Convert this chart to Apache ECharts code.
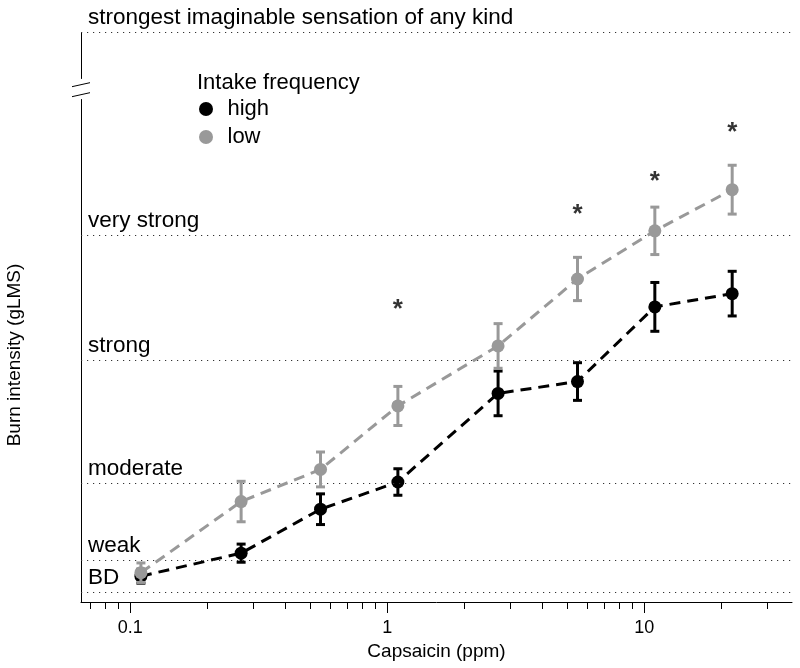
<!DOCTYPE html>
<html><head><meta charset="utf-8">
<script src="https://cdn.jsdelivr.net/npm/echarts@6/dist/echarts.min.js"></script>
<style>html,body{margin:0;padding:0;background:#fff}#c{width:800px;height:668px}</style>
</head><body><div id="c"></div>
<script>
const concentrations = [0.11, 0.27, 0.55, 1.1, 2.7, 5.5, 11, 22];
const highMean = [3.7, 7.0, 13.3, 17.2, 29.9, 31.6, 42.3, 44.2];
const highErr  = [1.0, 1.3, 2.2, 1.9, 3.2, 2.7, 3.5, 3.2];
const lowMean  = [4.2, 14.4, 19.0, 28.1, 36.7, 46.3, 53.2, 59.1];
const lowErr   = [1.4, 2.9, 2.5, 2.8, 3.2, 3.1, 3.4, 3.5];
const sigX = [1.1, 5.5, 11, 22];
const sigY = [42.5, 56.0, 60.8, 67.8];
const anchorNames = ['BD', 'weak', 'moderate', 'strong', 'very strong', 'strongest imaginable sensation of any kind'];
const anchorValues = [1.4, 6, 17, 34.7, 52.5, 100];
const majorTicks = [0.1, 1, 10];
const minorTicks = [0.07, 0.08, 0.09, 0.2, 0.3, 0.4, 0.5, 0.6, 0.7, 0.8, 0.9, 2, 3, 4, 5, 6, 7, 8, 9, 20, 30];
const groupNames = ['high', 'low'];

const FONT = '"Liberation Sans", Arial, sans-serif';
const BLACK = '#000000', GRAY = '#999999';

function errRender(color) {
  return function (params, api) {
    const x = api.value(0), lo = api.value(1), hi = api.value(2);
    const p1 = api.coord([x, hi]), p2 = api.coord([x, lo]);
    const w = 4.5, st = { stroke: color, lineWidth: 3 };
    return { type: 'group', children: [
      { type: 'line', shape: { x1: p1[0], y1: p1[1], x2: p2[0], y2: p2[1] }, style: st },
      { type: 'line', shape: { x1: p1[0] - w, y1: p1[1], x2: p1[0] + w, y2: p1[1] }, style: st },
      { type: 'line', shape: { x1: p2[0] - w, y1: p2[1], x2: p2[0] + w, y2: p2[1] }, style: st }
    ]};
  };
}
const errData = (m, e) => concentrations.map((c, i) => [c, m[i] - e[i], m[i] + e[i]]);
const ptData = m => concentrations.map((c, i) => [c, m[i]]);

const chart = echarts.init(document.getElementById('c'), null, { renderer: 'canvas' });
const xMin = 0.0643, xMax = 37.6;
chart.setOption({
  animation: false,
  textStyle: { fontFamily: FONT },
  grid: { left: 81, right: 8, top: 32, bottom: 66, outerBoundsMode: 'none', containLabel: false },
  title: { text: 'Intake frequency', left: 192, top: 67, textStyle: { fontFamily: FONT, fontSize: 22, fontWeight: 'normal', color: '#000' } },
  legend: {
    data: groupNames, orient: 'vertical', left: 194, top: 93, icon: 'circle', itemWidth: 33, itemHeight: 14, itemGap: 6,
    textStyle: { fontFamily: FONT, fontSize: 22, color: '#000' }, selectedMode: false
  },
  xAxis: [{
    type: 'log', logBase: 10, min: xMin, max: xMax,
    axisLine: { show: true, lineStyle: { color: '#000', width: 1 } },
    axisTick: { show: true, customValues: majorTicks, length: 11, lineStyle: { color: '#000' } },
    axisLabel: { show: true, customValues: majorTicks, fontSize: 18, color: '#000', margin: 17, fontFamily: FONT,
      formatter: v => String(+Number(v).toPrecision(3)) },
    splitLine: { show: false }, minorTick: { show: false },
    name: 'Capsaicin (ppm)', nameLocation: 'middle', nameGap: 28,
    nameTextStyle: { fontSize: 19, color: '#000', fontFamily: FONT }
  }, {
    type: 'log', logBase: 10, min: xMin, max: xMax, position: 'bottom',
    axisLine: { show: false },
    axisTick: { show: true, customValues: minorTicks, length: 7, lineStyle: { color: '#000' } },
    axisLabel: { show: false }, splitLine: { show: false }
  }],
  yAxis: {
    type: 'value', min: 0, max: 100,
    breaks: [{ start: 72, end: 93.3, gap: 3 }],
    breakArea: { show: false },
    axisLine: { show: true, lineStyle: { color: '#000', width: 1 } },
    axisTick: { show: false }, axisLabel: { show: false }, splitLine: { show: false },
    name: 'Burn intensity (gLMS)', nameLocation: 'middle', nameGap: 57,
    nameTextStyle: { fontSize: 19, color: '#000', fontFamily: FONT, padding: [0, 76, 0, 0] }
  },
  series: [
    { type: 'custom', name: 'high-err', renderItem: errRender(BLACK), data: errData(highMean, highErr),
      encode: { x: 0, y: [1, 2] }, z: 3, silent: true },
    { type: 'line', name: 'high', data: ptData(highMean), symbol: 'circle', symbolSize: 13,
      itemStyle: { color: BLACK }, lineStyle: { color: BLACK, width: 3, type: [11, 7] }, z: 4, silent: true,
      markLine: {
        silent: true, symbol: ['none', 'none'], animation: false,
        lineStyle: { type: [1.2, 4.8], color: '#333', width: 1.2 },
        label: { show: true, position: 'insideStartTop', formatter: '{b}', fontSize: 22.5, color: '#000', fontFamily: FONT, distance: [7, 3] },
        emphasis: { disabled: true },
        data: anchorValues.map((v, i) => ({ yAxis: v, name: anchorNames[i] }))
      }
    },
    { type: 'custom', name: 'low-err', renderItem: errRender(GRAY), data: errData(lowMean, lowErr),
      encode: { x: 0, y: [1, 2] }, z: 5, silent: true },
    { type: 'line', name: 'low', data: ptData(lowMean), symbol: 'circle', symbolSize: 13,
      itemStyle: { color: GRAY }, lineStyle: { color: GRAY, width: 3, type: [11, 7] }, z: 6, silent: true },
    { type: 'scatter', name: 'sig', data: sigX.map((x, i) => [x, sigY[i]]), symbol: 'circle', symbolSize: 1,
      itemStyle: { color: 'rgba(0,0,0,0)' }, silent: true,
      label: { show: true, position: 'inside', formatter: '*', fontSize: 26, fontWeight: 'bold', color: '#000', fontFamily: FONT, offset: [0, 4] } }
  ]
});

// axis-break mark "//" on the y axis
const yb = chart.convertToPixel({ yAxisIndex: 0 }, 72) - 12;
chart.setOption({
  graphic: [
    { type: 'rect', shape: { x: 79, y: yb - 3, width: 4, height: 8 }, style: { fill: '#fff' }, z: 100 },
    { type: 'line', shape: { x1: 72, y1: yb - 1, x2: 90, y2: yb - 5 }, style: { stroke: '#000', lineWidth: 1 }, z: 101 },
    { type: 'line', shape: { x1: 72, y1: yb + 9, x2: 90, y2: yb + 5 }, style: { stroke: '#000', lineWidth: 1 }, z: 101 }
  ]
});
</script></body></html>
